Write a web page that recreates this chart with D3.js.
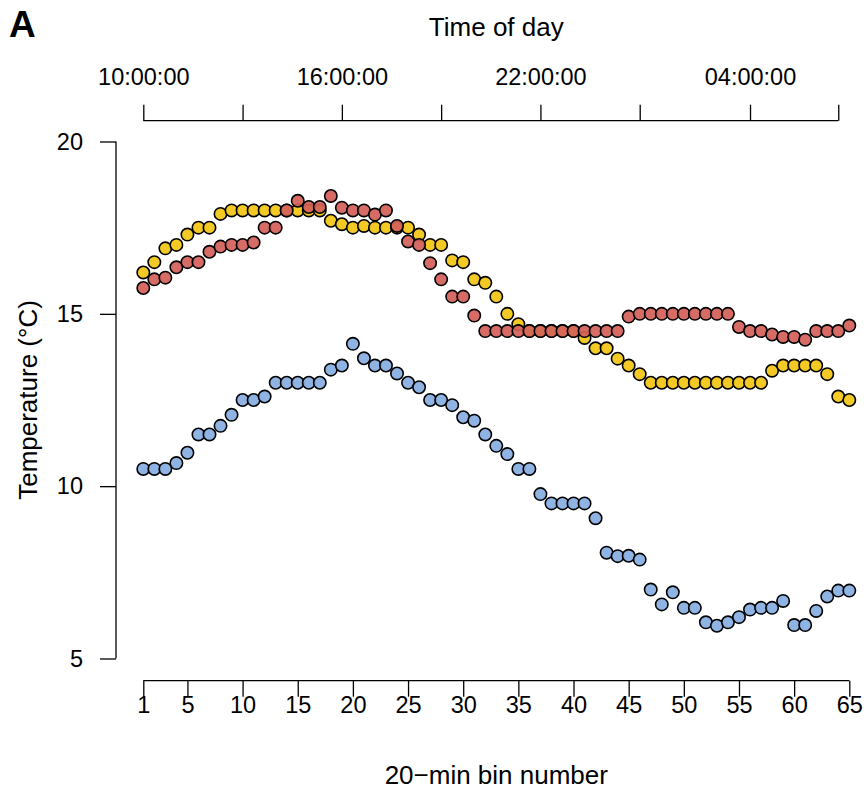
<!DOCTYPE html>
<html lang="en">
<head>
  <meta charset="UTF-8" />
  <title>Temperature by 20-min bin</title>
  <script src="https://d3js.org/d3.v7.min.js"></script>
  <style>
    html, body {
      margin: 0;
      padding: 0;
      background: #fff;
      overflow: hidden;
    }
    svg {
      display: block;
      font-family: 'Liberation Sans', Arial, sans-serif;
    }
    .axis path, .axis line {
      stroke: #000;
      stroke-width: 1.3px;
    }
    .axis text {
      font-size: 23.5px;
      fill: #000;
    }
    .title {
      font-size: 26px;
    }
  </style>
</head>
<body>
  <svg width="867" height="791"></svg>

  <script>
    // bin numbers along the bottom
    const bins = d3.range(1, 66);
    const binTicks = [1, 5, 10, 15, 20, 25, 30, 35, 40, 45, 50, 55, 60, 65];

    // top axis: time of day
    const timeTicks = [1, 10, 19, 28, 37, 46, 56, 64];
    const timeLabels = { 1: "10:00:00", 19: "16:00:00", 37: "22:00:00", 56: "04:00:00" };

    const yTicks = [5, 10, 15, 20];

    const blueTemps = [
      10.5, 10.5, 10.5, 10.67, 10.97, 11.5, 11.5, 11.75, 12.07, 12.5,
      12.5, 12.6, 13.0, 13.0, 13.0, 13.0, 13.0, 13.38, 13.5, 14.13,
      13.71, 13.5, 13.5, 13.27, 13.0, 12.87, 12.5, 12.5, 12.35, 12.0,
      11.9, 11.5, 11.17, 10.93, 10.5, 10.5, 9.77, 9.5, 9.5, 9.5,
      9.5, 9.07, 8.07, 7.97, 7.98, 7.87, 7.0, 6.57, 6.92, 6.47,
      6.47, 6.05, 5.95, 6.05, 6.2, 6.42, 6.47, 6.47, 6.67, 5.97,
      5.97, 6.38, 6.8, 6.97, 6.97
    ];

    const yellowTemps = [
      16.2, 16.5, 16.9, 17.0, 17.3, 17.5, 17.5, 17.9, 18.0, 18.0,
      18.0, 18.0, 18.0, 18.0, 18.0, 18.0, 18.0, 17.7, 17.6, 17.5,
      17.55, 17.5, 17.5, 17.5, 17.5, 17.3, 17.0, 17.0, 16.55, 16.5,
      16.0, 15.9, 15.5, 15.0, 14.7, 14.5, 14.5, 14.5, 14.5, 14.5,
      14.3, 14.0, 14.0, 13.7, 13.5, 13.25, 13.0, 13.0, 13.0, 13.0,
      13.0, 13.0, 13.0, 13.0, 13.0, 13.0, 13.0, 13.35, 13.5, 13.5,
      13.5, 13.5, 13.25, 12.6, 12.5
    ];

    const redTemps = [
      15.75, 16.0, 16.05, 16.35, 16.5, 16.5, 16.8, 16.95, 17.0, 17.0,
      17.07, 17.5, 17.5, 18.0, 18.28, 18.1, 18.1, 18.42, 18.08, 18.0,
      18.0, 17.88, 18.0, 17.55, 17.1, 17.0, 16.47, 16.0, 15.5, 15.5,
      14.95, 14.5, 14.5, 14.5, 14.5, 14.5, 14.5, 14.5, 14.5, 14.5,
      14.5, 14.5, 14.5, 14.5, 14.92, 15.0, 15.0, 15.0, 15.0, 15.0,
      15.0, 15.0, 15.0, 15.0, 14.62, 14.5, 14.5, 14.4, 14.33, 14.33,
      14.25, 14.5, 14.5, 14.5, 14.66
    ];

    // drawing order: blue, yellow, then red on top
    const series = [
      { name: "blue", values: blueTemps, fill: "#86aee2" },
      { name: "yellow", values: yellowTemps, fill: "#f2c414" },
      { name: "red", values: redTemps, fill: "#d4605a" }
    ];

    const svg = d3.select("svg");

    const x = d3.scaleLinear().domain([1, 65]).range([143.3, 849.3]);
    const y = d3.scaleLinear().domain([5, 20]).range([658.5, 141.5]);

    const tickLen = 16;

    // bottom axis
    const bottomAxis = svg.append("g")
      .attr("class", "axis")
      .attr("transform", "translate(0,680.7)")
      .call(d3.axisBottom(x).tickValues(binTicks).tickSizeOuter(0).tickSize(tickLen).tickPadding(0));
    bottomAxis.select(".domain").attr("d", `M${x(1)},0H${x(65)}`);

    // top axis (time of day)
    const topAxis = svg.append("g")
      .attr("class", "axis")
      .attr("transform", "translate(0,120.7)")
      .call(d3.axisTop(x).tickValues(timeTicks).tickSize(tickLen).tickPadding(20)
        .tickFormat(d => timeLabels[d] || ""));
    topAxis.select(".domain").attr("d", `M${x(1)},0H${x(64)}`);

    // left axis
    const leftAxis = svg.append("g")
      .attr("class", "axis")
      .attr("transform", "translate(116,0)")
      .call(d3.axisLeft(y).tickValues(yTicks).tickSize(tickLen).tickPadding(17));
    leftAxis.select(".domain").attr("d", `M0,${y(5)}V${y(20)}`);

    // titles
    svg.append("text")
      .attr("class", "title")
      .attr("x", (x(1) + x(65)) / 2)
      .attr("y", 784)
      .attr("text-anchor", "middle")
      .text("20\u2212min bin number");

    svg.append("text")
      .attr("class", "title")
      .attr("x", (x(1) + x(65)) / 2)
      .attr("y", 36)
      .attr("text-anchor", "middle")
      .text("Time of day");

    svg.append("text")
      .attr("class", "title")
      .attr("transform", `translate(37,${(y(5) + y(20)) / 2}) rotate(-90)`)
      .attr("text-anchor", "middle")
      .text("Temperature (\u00B0C)");

    svg.append("text")
      .attr("x", 9)
      .attr("y", 37)
      .style("font-size", "37px")
      .style("font-weight", "bold")
      .text("A");

    // points
    series.forEach(s => {
      svg.append("g")
        .selectAll("circle")
        .data(s.values)
        .enter()
        .append("circle")
        .attr("cx", (d, i) => x(bins[i]))
        .attr("cy", d => y(d))
        .attr("r", 6.2)
        .attr("fill", s.fill)
        .attr("fill-opacity", 0.92)
        .attr("stroke", "#000")
        .attr("stroke-width", 1.6);
    });
  </script>
</body>
</html>
